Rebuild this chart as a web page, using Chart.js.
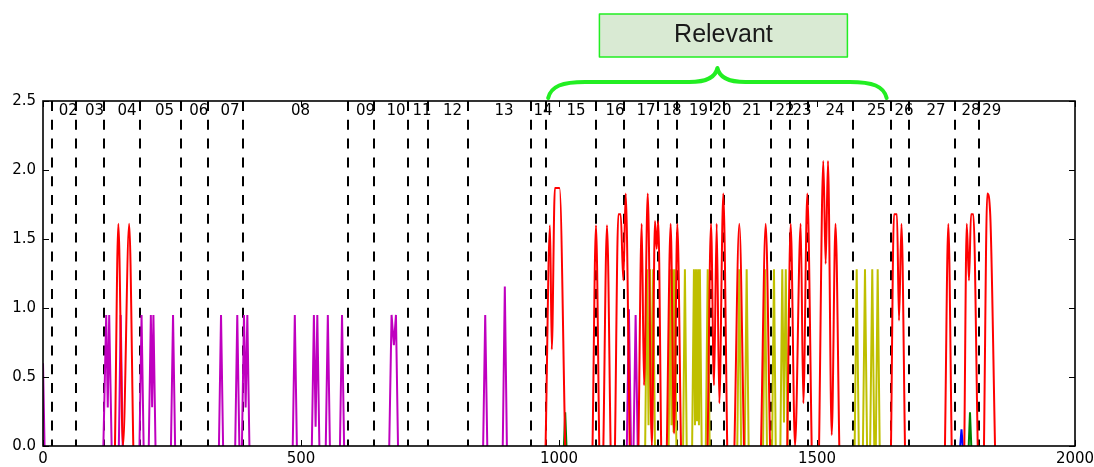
<!DOCTYPE html>
<html><head><meta charset="utf-8">
<script src="https://cdn.jsdelivr.net/npm/chart.js@4.4.1/dist/chart.umd.min.js"></script>
<style>html,body{margin:0;padding:0;background:#fff;}canvas{display:block;}</style>
</head><body>
<canvas id="c" width="1094" height="467"></canvas>
<script>
// ---- data ----
const xTickValues = [0, 500, 1000, 1500, 2000];
const yTickValues = [0, 0.5, 1.0, 1.5, 2.0, 2.5];
const dividerX = [18, 64.6, 118, 188, 267, 320, 388, 592, 641, 708, 745.5, 824, 946, 974, 1072, 1126, 1192, 1228, 1295, 1320, 1411, 1448, 1483, 1570, 1644, 1679, 1767, 1813];
const segmentLabels = ['02','03','04','05','06','07','08','09','10','11','12','13','14','15','16','17','18','19','20','21','22','23','24','25','26','27','28','29'];
const segmentLabelX = [49, 99.8, 162.8, 235.5, 302, 362.4, 499, 625, 684, 734.5, 793.6, 893.4, 969, 1033, 1108.5, 1168.6, 1219, 1270.3, 1316, 1373.4, 1438, 1471, 1535, 1615.3, 1668.6, 1730.6, 1798.4, 1838.6];
const bracketRange = [979, 1635];
const bracketLabel = 'Relevant';

// red series (null = gap)
const redX = [139.5,146,155,167,175,null,
  974,982.6,986,992,1001,1012,null,
  1065,1071.7,1078,null,
  1086,1093,1100,null,
  1108.5,1115,1119.6,1124.6,1129.3,1137,null,
  1154,1160.3,1164.8,1172,1180,1186,1189.3,1192.4,1198,null,
  1209,1216.4,1223,1229.3,1236.4,null,
  1288,1294.6,1300.4,1305.6,1310.7,1318.4,1326,null,
  1340,1349.4,1358.5,null,
  1391.5,1400.6,1409,null,
  1442.4,1449,1457.4,1468.4,1473.5,1481.2,1489.7,null,
  1504,1512.2,1516.8,1521.3,1528.5,1535.9,1543.2,null,
  1643.4,1649.2,1655,1658.9,1663.7,1670.5,null,
  1748,1754.5,1761,null,
  1785.5,1790.2,1794.6,1798.5,1803,1811.5,null,
  1823.6,1830,1835.8,1845];
const redY = [0,1.61,0,1.61,0,null,
  0,1.6,0.7,1.87,1.87,0,null,
  0,1.6,0,null,
  0,1.6,0,null,
  0,1.68,1.68,1.2,1.83,0,null,
  0,1.61,0.44,1.83,0,1.63,1.43,1.63,0,null,
  0,1.61,0.09,1.61,0,null,
  0,1.61,0.44,1.61,0.31,1.83,0,null,
  0,1.61,0,null,
  0,1.61,0,null,
  0,1.61,0,1.61,0.31,1.83,0,null,
  0,2.065,1.32,2.065,0.08,1.61,0,null,
  0,1.68,1.68,0.91,1.61,0,null,
  0,1.61,0,null,
  0,1.61,1.2,1.68,1.68,0,null,
  0,1.83,1.67,0];

// magenta series
const magentaX = [0,3,null,
  117,122.5,125.5,128.3,133,null,
  147,150.6,154.5,null,
  187,191,195,null,
  205,209,211.5,214,218,null,
  248,252,256,null,
  341,345,349,null,
  372.5,376.5,380.5,null,
  385.5,389.5,392.7,396,400,null,
  484,488,492,null,
  521,525,528.3,531.6,535.6,null,
  548,552,556,null,
  575.5,579.5,583.5,null,
  671,675.5,680,684,688,null,
  853,857,861,null,
  891,895,899,null,
  1131.5,1135.5,1139.5,null,
  1144.5,1148.5,1152.5];
const magentaY = [0.6,0,null,
  0,0.95,0.28,0.95,0,null,
  0,0.95,0,null,
  0,0.95,0,null,
  0,0.95,0.28,0.95,0,null,
  0,0.95,0,null,
  0,0.95,0,null,
  0,0.95,0,null,
  0,0.95,0.28,0.95,0,null,
  0,0.95,0,null,
  0,0.95,0.14,0.95,0,null,
  0,0.95,0,null,
  0,0.95,0,null,
  0,0.95,0.73,0.95,0,null,
  0,0.95,0,null,
  0,1.155,0,null,
  0,0.99,0,null,
  0,0.95,0];

// olive-yellow series
const yellowX = [1167,1170.5,1173.5,1176.5,1179.5,1182.5,1186,null,
  1212.5,1216,1218,1220,1222,1224,1227.5,null,
  1240.5,1244,1247.5,null,
  1258,1261.5,1263.5,1265.5,1267.5,1269.5,1271.2,1273,1276.5,null,
  1284.5,1288.2,1292,null,
  1345.5,1349.4,1353,null,
  1360,1363.7,1367.5,null,
  1395.5,1399.2,1403,null,
  1413,1416.6,1420,null,
  1429,1432.7,1436,1439.5,1443,null,
  1573,1576.9,1581,null,
  1589,1593,1597,null,
  1603,1607.1,1611,null,
  1614,1617.6,1621.5];
const yellowY = [0,1.28,0.15,1.28,0.12,1.28,0,null,
  0,1.28,0.15,1.28,0.1,1.28,0,null,
  0,1.28,0,null,
  0,1.28,0.15,1.28,0.18,1.28,0.15,1.28,0,null,
  0,1.28,0,null,
  0,1.28,0,null,
  0,1.28,0,null,
  0,1.28,0,null,
  0,1.28,0,null,
  0,1.28,0.17,1.28,0,null,
  0,1.28,0,null,
  0,1.28,0,null,
  0,1.28,0,null,
  0,1.28,0];

const greenX = [1009.5,1012,1014.5,null,1794,1796.5,1799];
const greenY = [0,0.245,0,null,0,0.244,0];
const blueX = [1777.5,1780,1782.5];
const blueY = [0,0.12,0];

function toPoints(xs, ys){
  return xs.map((x,i)=> x===null ? {x: xs[i-1], y: null} : {x: x, y: ys[i]});
}

const FONT = '"DejaVu Sans", sans-serif';

const overlay = {
  id: 'overlay',
  beforeDatasetsDraw(chart){
    const {ctx, chartArea:a, scales:{x}} = chart;
    ctx.save();
    ctx.beginPath(); ctx.rect(a.left, a.top, a.right-a.left, a.bottom-a.top); ctx.clip();
    ctx.strokeStyle = '#000'; ctx.lineWidth = 2; ctx.setLineDash([10, 8.8]);
    dividerX.forEach(v=>{
      const px = Math.round(x.getPixelForValue(v));
      ctx.beginPath(); ctx.moveTo(px, a.top); ctx.lineTo(px, a.bottom); ctx.stroke();
    });
    ctx.restore();
  },
  afterDatasetsDraw(chart){
    const {ctx, chartArea:a, scales:{x, y}} = chart;
    ctx.save();
    // segment labels
    ctx.fillStyle = '#000';
    ctx.font = '15px ' + FONT;
    ctx.textAlign = 'center'; ctx.textBaseline = 'middle';
    segmentLabels.forEach((s,i)=>{
      ctx.fillText(s, x.getPixelForValue(segmentLabelX[i]), a.top + 10);
    });
    // inward ticks
    ctx.strokeStyle = '#000'; ctx.lineWidth = 1;
    xTickValues.forEach(v=>{
      const px = Math.round(x.getPixelForValue(v)) + 0.5;
      ctx.beginPath();
      ctx.moveTo(px, a.bottom); ctx.lineTo(px, a.bottom-6);
      ctx.moveTo(px, a.top); ctx.lineTo(px, a.top+6);
      ctx.stroke();
    });
    yTickValues.forEach(v=>{
      const py = Math.round(y.getPixelForValue(v)) + 0.5;
      ctx.beginPath();
      ctx.moveTo(a.left, py); ctx.lineTo(a.left+6, py);
      ctx.moveTo(a.right, py); ctx.lineTo(a.right-6, py);
      ctx.stroke();
    });
    // spines
    ctx.lineWidth = 1.6;
    ctx.strokeRect(a.left, a.top, a.right-a.left, a.bottom-a.top);
    // curly bracket
    const L = x.getPixelForValue(bracketRange[0]);
    const R = x.getPixelForValue(bracketRange[1]);
    const M = (L+R)/2;
    const yEnd = a.top - 3, yMid = a.top - 19, yTip = a.top - 33;
    ctx.strokeStyle = '#22ee22'; ctx.lineWidth = 4; ctx.lineCap = 'round'; ctx.lineJoin = 'round';
    ctx.beginPath();
    ctx.moveTo(L, yEnd);
    ctx.bezierCurveTo(L+3, yMid+4, L+14, yMid, L+37, yMid);
    ctx.lineTo(M-28, yMid);
    ctx.bezierCurveTo(M-13, yMid, M-2, yMid-4, M, yTip);
    ctx.bezierCurveTo(M+2, yMid-4, M+13, yMid, M+28, yMid);
    ctx.lineTo(R-37, yMid);
    ctx.bezierCurveTo(R-14, yMid, R-3, yMid+4, R, yEnd);
    ctx.stroke();
    // label box
    const bw = 248, bh = 43, bc = M + 6, bt = 14;
    ctx.fillStyle = '#d9ead3';
    ctx.fillRect(bc - bw/2, bt, bw, bh);
    ctx.strokeStyle = '#22ee22'; ctx.lineWidth = 1.5;
    ctx.strokeRect(bc - bw/2, bt, bw, bh);
    ctx.fillStyle = '#1a1a1a';
    ctx.font = '25px "Liberation Sans", Arial, sans-serif';
    ctx.textAlign = 'center'; ctx.textBaseline = 'middle';
    ctx.fillText(bracketLabel, bc, bt + bh/2);
    ctx.restore();
  }
};

const common = {fill:false, pointRadius:0, spanGaps:false, borderWidth:2};
new Chart(document.getElementById('c'), {
  type: 'line',
  data: {
    datasets: [
      Object.assign({label:'red', data: toPoints(redX, redY), borderColor:'#ff0000', cubicInterpolationMode:'monotone'}, common),
      Object.assign({label:'magenta', data: toPoints(magentaX, magentaY), borderColor:'#bf00bf', tension:0}, common),
      Object.assign({label:'yellow', data: toPoints(yellowX, yellowY), borderColor:'#bfbf00', tension:0}, common),
      Object.assign({label:'green', data: toPoints(greenX, greenY), borderColor:'#008000', tension:0}, common),
      Object.assign({label:'blue', data: toPoints(blueX, blueY), borderColor:'#0000ff', tension:0}, common)
    ]
  },
  options: {
    responsive: false,
    animation: false,
    events: [],
    layout: {padding: {top: 101, right: 19, bottom: 0, left: 0}},
    plugins: {legend:{display:false}, tooltip:{enabled:false}},
    scales: {
      x: {
        type:'linear', min:0, max:2000,
        grid:{display:false, drawTicks:false},
        border:{display:false},
        afterFit(s){ s.height = 21; s.paddingLeft = 0; s.paddingRight = 0; },
        afterBuildTicks(s){ s.ticks = xTickValues.map(v=>({value:v})); },
        ticks:{color:'#000', font:{family:'DejaVu Sans', size:15}, padding:4, maxRotation:0, autoSkip:false, callback:v=>String(v)}
      },
      y: {
        type:'linear', min:0, max:2.5,
        grid:{display:false, drawTicks:false},
        border:{display:false},
        afterFit(s){ s.width = 43; s.paddingTop = 0; s.paddingBottom = 0; },
        afterBuildTicks(s){ s.ticks = yTickValues.map(v=>({value:v})); },
        ticks:{color:'#000', font:{family:'DejaVu Sans', size:15}, padding:7, callback:v=>Number(v).toFixed(1)}
      }
    }
  },
  plugins: [overlay]
});
</script>
</body></html>
